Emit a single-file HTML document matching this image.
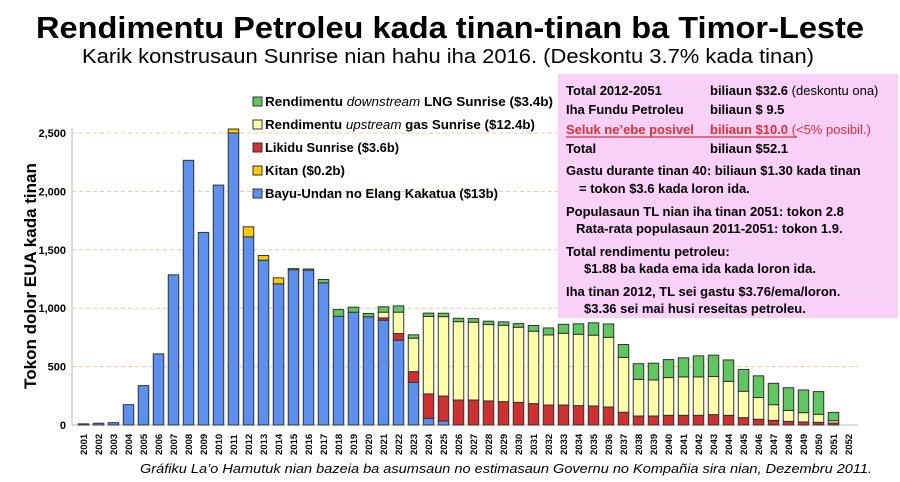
<!DOCTYPE html>
<html><head><meta charset="utf-8"><style>
html,body{margin:0;padding:0;background:#fff;}
svg{display:block;font-family:"Liberation Sans",sans-serif;}
</style></head><body>
<svg id="chart" width="900" height="482" viewBox="0 0 900 482">
<text x="450" y="38" text-anchor="middle" font-size="31" font-weight="600" textLength="828" lengthAdjust="spacingAndGlyphs">Rendimentu Petroleu kada tinan-tinan ba Timor-Leste</text>
<text x="448" y="63" text-anchor="middle" font-size="20" textLength="732" lengthAdjust="spacingAndGlyphs">Karik konstrusaun Sunrise nian hahu iha 2016.   (Deskontu 3.7% kada tinan)</text>
<g id="grid"></g>
<line x1="72" y1="128" x2="72" y2="425" stroke="#bbb"/>
<line x1="72" y1="425" x2="858" y2="425" stroke="#bbb"/>
<g id="yticks"></g>
<text transform="translate(36,276) rotate(-90)" text-anchor="middle" font-size="17" font-weight="bold">Tokon dolor EUA kada tinan</text>
<g id="bars"></g>
<g id="xticks"></g>
<g id="legend" font-size="13" font-weight="bold">
<rect x="253" y="97" width="9" height="9" fill="#5ec85e" stroke="#333"/>
<text x="265" y="106" textLength="288" lengthAdjust="spacingAndGlyphs">Rendimentu <tspan font-style="italic" font-weight="normal">downstream</tspan> LNG Sunrise ($3.4b)</text>
<rect x="253" y="120" width="9" height="9" fill="#ffffa8" stroke="#333"/>
<text x="265" y="129" textLength="270" lengthAdjust="spacingAndGlyphs">Rendimentu <tspan font-style="italic" font-weight="normal">upstream</tspan> gas Sunrise ($12.4b)</text>
<rect x="253" y="143" width="9" height="9" fill="#d03030" stroke="#333"/>
<text x="265" y="152" textLength="134" lengthAdjust="spacingAndGlyphs">Likidu Sunrise ($3.6b)</text>
<rect x="253" y="166" width="9" height="9" fill="#ffc800" stroke="#333"/>
<text x="265" y="175" textLength="80" lengthAdjust="spacingAndGlyphs">Kitan ($0.2b)</text>
<rect x="253" y="189" width="9" height="9" fill="#5b8ff0" stroke="#333"/>
<text x="265" y="198" textLength="233" lengthAdjust="spacingAndGlyphs">Bayu-Undan no Elang Kakatua ($13b)</text>
</g>
<g>
<rect x="558" y="74" width="340" height="244" fill="#f8d0f8"/>
<g font-size="13" font-weight="bold">
<text x="566" y="95">Total 2012-2051</text>
<text x="710" y="95">biliaun  $32.6 <tspan font-weight="normal">(deskontu ona)</tspan></text>
<text x="566" y="114">Iha Fundu Petroleu</text>
<text x="710" y="114">biliaun  $  9.5</text>
<text x="566" y="134" fill="#e03030">Seluk ne’ebe posivel</text>
<text x="710" y="134" fill="#e03030">biliaun  $10.0 <tspan font-weight="normal">(&lt;5% posibil.)</tspan></text>
<line x1="566" y1="137" x2="797" y2="137" stroke="#e03030" stroke-width="1.2"/>
<text x="566" y="153">Total</text>
<text x="710" y="153">biliaun  $52.1</text>
<text x="566" y="175">Gastu durante tinan 40: biliaun $1.30 kada tinan</text>
<text x="579" y="193">= tokon $3.6 kada loron ida.</text>
<text x="566" y="216">Populasaun TL nian iha tinan 2051: tokon 2.8</text>
<text x="576" y="233">Rata-rata populasaun 2011-2051: tokon 1.9.</text>
<text x="566" y="256">Total rendimentu petroleu:</text>
<text x="584" y="273">$1.88 ba kada ema ida kada loron ida.</text>
<text x="566" y="296">Iha tinan 2012, TL sei gastu $3.76/ema/loron.</text>
<text x="584" y="313">$3.36 sei mai husi reseitas petroleu.</text>
</g>
</g>
<text x="872" y="473" text-anchor="end" font-size="13" font-style="italic" textLength="732" lengthAdjust="spacingAndGlyphs">Gráfiku La’o Hamutuk nian bazeia ba asumsaun no estimasaun Governu no Kompañia sira nian, Dezembru 2011.</text>
</svg>
<script>
const years = [2001,2002,2003,2004,2005,2006,2007,2008,2009,2010,2011,2012,2013,2014,2015,2016,2017,2018,2019,2020,2021,2022,2023,2024,2025,2026,2027,2028,2029,2030,2031,2032,2033,2034,2035,2036,2037,2038,2039,2040,2041,2042,2043,2044,2045,2046,2047,2048,2049,2050,2051,2052];
const bayuUndan = [10,15,20,174,337,609,1286,2266,1649,2054,2500,1611,1411,1209,1329,1326,1217,931,966,926,897,726,366,57,34,0,0,0,0,0,0,0,0,0,0,0,0,0,0,0,0,0,0,0,0,0,0,0,0,0,0,0];
const kitan = [0,0,0,0,0,0,0,0,0,0,34,86,40,51,10,10,0,0,0,0,0,0,0,0,0,0,0,0,0,0,0,0,0,0,0,0,0,0,0,0,0,0,0,0,0,0,0,0,0,0,0,0];
const liquids = [0,0,0,0,0,0,0,0,0,0,0,0,0,0,0,0,0,0,0,0,20,57,91,209,214,214,214,206,200,194,183,171,171,166,163,154,109,77,77,83,83,83,89,83,63,49,40,31,26,23,17,0];
const upstream = [0,0,0,0,0,0,0,0,0,0,0,0,0,0,0,0,0,0,0,0,49,183,286,663,680,671,666,654,654,643,620,600,614,611,606,597,469,314,309,323,329,329,326,291,226,186,134,94,80,69,20,0];
const downstream = [0,0,0,0,0,0,0,0,0,0,0,0,0,0,0,0,29,57,43,29,46,54,29,29,29,29,31,29,29,31,49,60,77,89,106,114,111,134,143,154,163,180,183,183,186,186,183,194,194,194,71,0];
const yTicks = [0,500,1000,1500,2000,2500];
const yTickLabels = ["0","500","1,000","1,500","2,000","2,500"];

const NS = "http://www.w3.org/2000/svg";
const y0 = 425, yScale = 0.1168;
const xLeft = 76, band = 15, barW = 10.5;
function yPos(v){ return y0 - v*yScale; }
function xCenter(i){ return xLeft + band/2 + band*i; }
function mk(tag, attrs, parent){ const e=document.createElementNS(NS,tag); for(const k in attrs) e.setAttribute(k,attrs[k]); parent.appendChild(e); return e; }

const grid = document.getElementById('grid');
const yt = document.getElementById('yticks');
yTicks.forEach((t,i)=>{
  if(t>0){
    const l = mk('line',{x1:72,x2:858,y1:yPos(t),y2:yPos(t),stroke:'#f5c89a','stroke-dasharray':'4,3'},grid);
    
    
  }
  const tx = mk('text',{x:66,y:yPos(t)+4,'text-anchor':'end','font-size':11,'font-weight':'bold'},yt);
  tx.textContent = yTickLabels[i];
  
  
});

const series = [
  {vals:bayuUndan, fill:'#5b8ff0', name:'bar-bayu-undan'},
  {vals:kitan, fill:'#ffc800', name:'bar-kitan'},
  {vals:liquids, fill:'#d03030', name:'bar-liquids'},
  {vals:upstream, fill:'#ffffa8', name:'bar-upstream'},
  {vals:downstream, fill:'#5ec85e', name:'bar-downstream'}
];
const bars = document.getElementById('bars');
const xt = document.getElementById('xticks');
years.forEach((yr,i)=>{
  let cum = 0;
  series.forEach(s=>{
    const v = s.vals[i];
    if(v>0){
      const r = mk('rect',{x:xCenter(i)-barW/2,y:yPos(cum+v),width:barW,height:v*yScale,fill:s.fill,stroke:'#333','stroke-width':1},bars);
      
      
    }
    cum += v;
  });
  const tx = mk('text',{transform:`translate(${xCenter(i)+3.5},455) rotate(-90)`,'font-size':9.5,'font-weight':'bold'},xt);
  tx.textContent = yr;
  
  
});
</script>
</body></html>
